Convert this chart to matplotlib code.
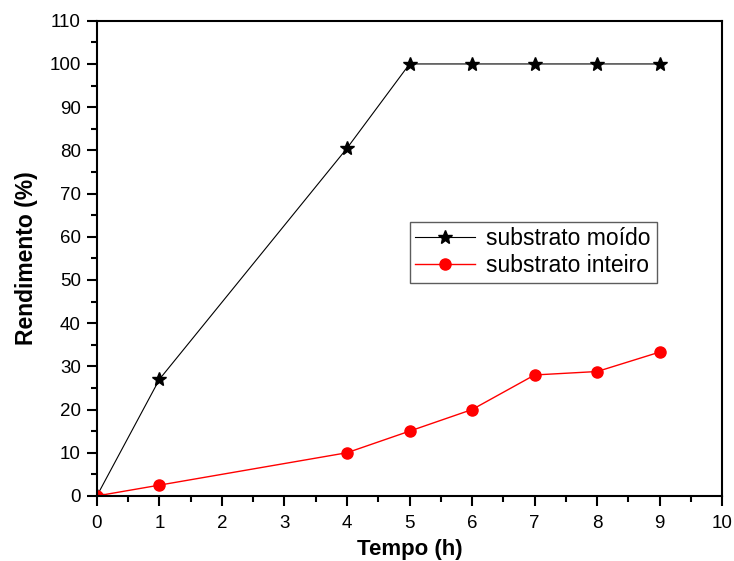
import matplotlib
matplotlib.use("Agg")
import matplotlib.pyplot as plt
from matplotlib.ticker import MultipleLocator

plt.rcParams['font.family'] = ['Liberation Sans', 'DejaVu Sans']

tempo = [0, 1, 4, 5, 6, 7, 8, 9]
moido = [0, 27, 80.5, 100, 100, 100, 100, 100]
inteiro = [0, 2.5, 10, 15, 20, 28, 28.8, 33.3]

fig = plt.figure(figsize=(7.34, 5.61), dpi=100)
ax = fig.add_axes([0.132, 0.116, 0.852, 0.847])

ax.plot(tempo, moido, color='black', lw=0.8, marker='*', ms=10, label='substrato moído')
ax.plot(tempo, inteiro, color='red', lw=1.0, marker='o', ms=8, label='substrato inteiro')

ax.set_xlim(0, 10)
ax.set_ylim(0, 110)
ax.xaxis.set_major_locator(MultipleLocator(1))
ax.xaxis.set_minor_locator(MultipleLocator(0.5))
ax.yaxis.set_major_locator(MultipleLocator(10))
ax.yaxis.set_minor_locator(MultipleLocator(5))
ax.tick_params(which='both', direction='out', width=1.5, labelsize=13.5, top=False, right=False)
ax.tick_params(which='major', length=7.5, pad=4)
ax.tick_params(axis='x', which='major', pad=6)
ax.tick_params(which='minor', length=4.5)
for s in ax.spines.values():
    s.set_linewidth(1.5)

ax.set_xlabel('Tempo (h)', fontsize=16, fontweight='bold', labelpad=5)
ax.set_ylabel('Rendimento (%)', fontsize=16.5, fontweight='bold', labelpad=8)

leg = ax.legend(loc='upper left', bbox_to_anchor=(0.50, 0.577), fontsize=16.5,
                frameon=True, fancybox=False, edgecolor='#333333',
                handlelength=2.6, handletextpad=0.5, borderpad=0.25, labelspacing=0.15,
                borderaxespad=0)
leg.get_frame().set_linewidth(1.0)

fig.savefig('out.png', dpi=100)
